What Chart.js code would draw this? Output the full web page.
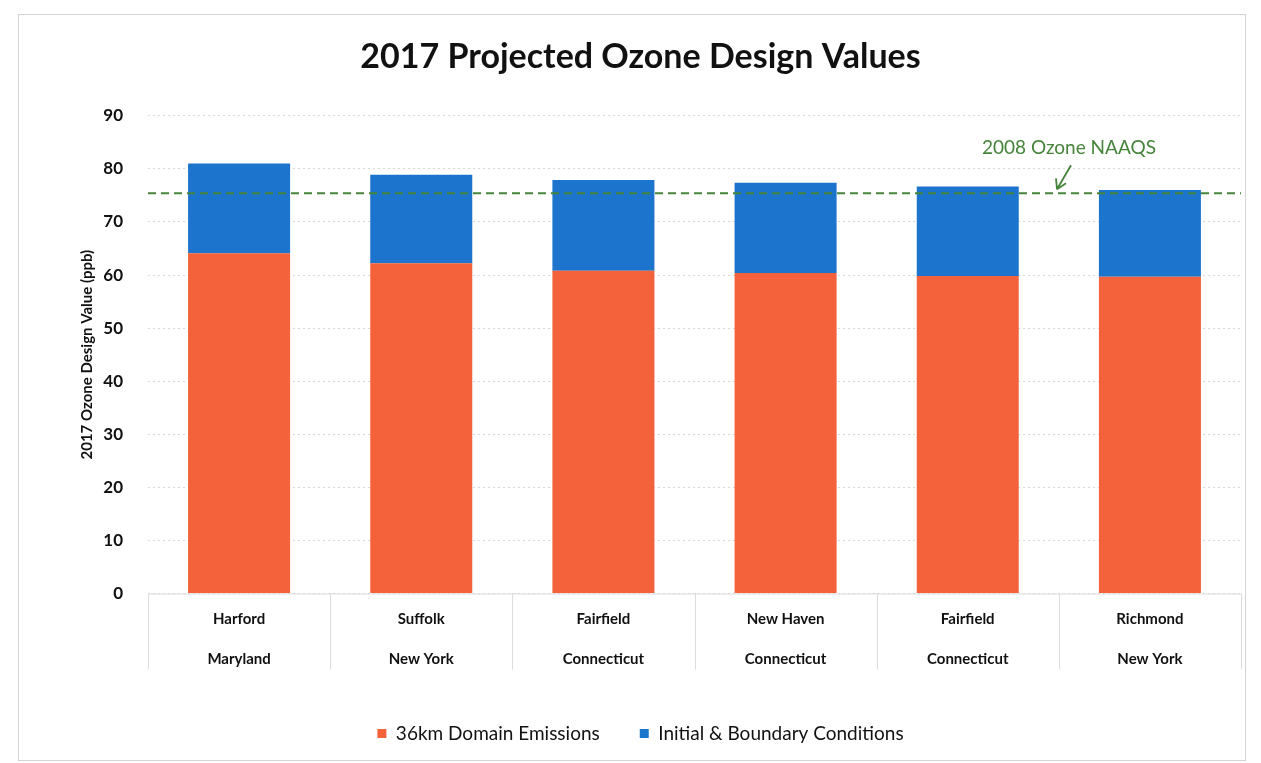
<!DOCTYPE html>
<html>
<head>
<meta charset="utf-8">
<script src="https://cdn.jsdelivr.net/npm/chart.js@4.4.1/dist/chart.umd.min.js"></script>
<style>
  html, body { margin: 0; padding: 0; background: #fff; }
  #wrap { position: absolute; left: 0; top: 0; width: 1261px; height: 763px; }
  #frame { position: absolute; left: 18px; top: 14px; width: 1226px; height: 745px; border: 1px solid #d4d4d4; }
</style>
</head>
<body>
<div id="wrap">
  <div id="frame"></div>
  <canvas id="c" width="1261" height="763"></canvas>
</div>
<script>
const categories = [
  ["Harford", "Maryland"],
  ["Suffolk", "New York"],
  ["Fairfield", "Connecticut"],
  ["New Haven", "Connecticut"],
  ["Fairfield", "Connecticut"],
  ["Richmond", "New York"]
];
const domainEmissions = [64.1, 62.2, 60.8, 60.4, 59.8, 59.7];
const boundaryConditions = [16.9, 16.7, 17.1, 17.0, 16.9, 16.3];
const naaqsValue = 75.4;
const naaqsLabel = "2008 Ozone NAAQS";
const yTicks = [0, 10, 20, 30, 40, 50, 60, 70, 80, 90];

const FONT = "Lato, 'Open Sans', sans-serif";

const separatorsPlugin = {
  id: 'separators',
  afterDraw(chart) {
    const { ctx, chartArea, scales } = chart;
    const xs = scales.x;
    const n = xs.ticks.length;
    ctx.save();
    ctx.strokeStyle = '#dcdcdc';
    ctx.lineWidth = 1;
    ctx.beginPath();
    ctx.moveTo(chartArea.left, chartArea.bottom + 0.5);
    ctx.lineTo(chartArea.right, chartArea.bottom + 0.5);
    for (let i = 0; i <= n; i++) {
      const x = Math.round(chartArea.left + (chartArea.right - chartArea.left) * i / n) + 0.5;
      ctx.moveTo(x, chartArea.bottom);
      ctx.lineTo(x, chartArea.bottom + 76);
    }
    ctx.stroke();
    ctx.restore();
  }
};

const naaqsPlugin = {
  id: 'naaqs',
  afterDatasetsDraw(chart) {
    const { ctx, chartArea, scales } = chart;
    const y = scales.y.getPixelForValue(naaqsValue);
    ctx.save();
    ctx.strokeStyle = '#45843a';
    ctx.lineWidth = 2;
    ctx.setLineDash([8, 5]);
    ctx.beginPath();
    ctx.moveTo(chartArea.left, y);
    ctx.lineTo(chartArea.right, y);
    ctx.stroke();
    ctx.setLineDash([]);
    ctx.fillStyle = '#45843a';
    ctx.font = "19px " + FONT;
    ctx.textAlign = 'center';
    ctx.textBaseline = 'middle';
    const lx = chartArea.right - 172;
    const ly = y - 45;
    ctx.fillText(naaqsLabel, lx, ly);
    const ax0 = lx + 2, ay0 = ly + 17, ax1 = lx - 12, ay1 = y - 4;
    ctx.lineWidth = 1.8;
    ctx.beginPath();
    ctx.moveTo(ax0, ay0);
    ctx.lineTo(ax1, ay1);
    ctx.moveTo(ax1, ay1);
    ctx.lineTo(ax1 - 1, ay1 - 11);
    ctx.moveTo(ax1, ay1);
    ctx.lineTo(ax1 + 9, ay1 - 6);
    ctx.stroke();
    ctx.restore();
  }
};

new Chart(document.getElementById('c'), {
  type: 'bar',
  data: {
    labels: categories,
    datasets: [
      {
        label: '36km Domain Emissions',
        data: domainEmissions,
        backgroundColor: '#f4623c',
        barPercentage: 0.56,
        categoryPercentage: 1.0
      },
      {
        label: 'Initial & Boundary Conditions',
        data: boundaryConditions,
        backgroundColor: '#1c74cc',
        barPercentage: 0.56,
        categoryPercentage: 1.0
      }
    ]
  },
  options: {
    responsive: false,
    animation: false,
    layout: { padding: { left: 40, right: 20, top: 10, bottom: 10 } },
    plugins: {
      title: {
        display: true,
        text: '2017 Projected Ozone Design Values',
        color: '#111',
        font: { family: FONT, size: 34, weight: 'bold' },
        padding: { top: 27, bottom: 38 }
      },
      legend: {
        position: 'bottom',
        labels: {
          color: '#111',
          font: { family: FONT, size: 19 },
          usePointStyle: true,
          pointStyle: 'rect',
          boxWidth: 9,
          boxHeight: 9,
          padding: 40
        }
      },
      tooltip: { enabled: false }
    },
    scales: {
      x: {
        stacked: true,
        grid: { display: false },
        border: { display: false },
        afterFit(scale) { scale.height += 7; },
        ticks: {
          color: '#111',
          font: { family: FONT, size: 15, weight: 'bold', lineHeight: 2.65 },
          padding: -2,
          maxRotation: 0
        }
      },
      y: {
        stacked: true,
        min: 0,
        max: 90,
        afterBuildTicks(scale) { scale.ticks = yTicks.map(v => ({ value: v })); },
        afterFit(scale) { scale.width = 108; },
        grid: { color: '#d8d8d8', drawTicks: false, lineWidth: 1 },
        border: { display: false, dash: [2, 3] },
        ticks: {
          color: '#111',
          font: { family: FONT, size: 17, weight: 'bold' },
          padding: 25
        },
        title: {
          display: true,
          text: '2017 Ozone Design Value (ppb)',
          color: '#111',
          font: { family: FONT, size: 15, weight: 'bold' },
          padding: { top: 38, bottom: 0 }
        }
      }
    }
  },
  plugins: [separatorsPlugin, naaqsPlugin]
});
</script>
</body>
</html>
